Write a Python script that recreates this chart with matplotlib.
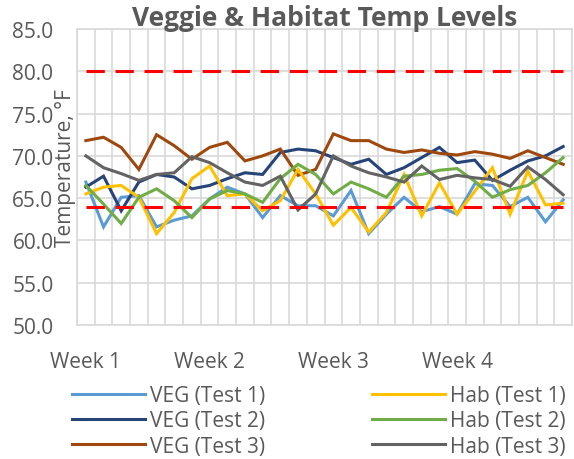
import numpy as np
import matplotlib
matplotlib.use("Agg")
import matplotlib.pyplot as plt

plt.rcParams['font.family'] = ['Open Sans', 'DejaVu Sans']

# one value per day, 4 weeks
days = list(range(28))
week_pos = [0, 7, 14, 21]
week_labels = ["Week 1", "Week 2", "Week 3", "Week 4"]

veg1 = [66.9, 61.6, 65.1, 65.3, 61.6, 62.4, 62.9, 64.9, 66.3, 65.5, 62.7, 65.3, 64.1, 64.1,
        62.9, 65.9, 60.8, 63.1, 65.1, 63.4, 64.0, 63.1, 66.7, 66.5, 64.0, 65.1, 62.2, 64.8]
veg2 = [66.3, 67.6, 63.5, 66.9, 67.8, 67.5, 66.1, 66.5, 67.3, 68.0, 67.8, 70.4, 70.8, 70.6,
        69.8, 69.0, 69.6, 67.8, 68.6, 69.8, 71.0, 69.2, 69.5, 67.1, 68.3, 69.4, 70.0, 71.1]
veg3 = [71.8, 72.2, 71.0, 68.4, 72.5, 71.2, 69.6, 71.0, 71.6, 69.4, 70.0, 70.8, 67.7, 68.4,
        72.6, 71.8, 71.8, 70.8, 70.4, 70.7, 70.3, 70.1, 70.5, 70.2, 69.7, 70.6, 69.8, 69.0]
hab1 = [65.5, 66.3, 66.5, 65.1, 60.8, 63.3, 67.3, 68.8, 65.3, 65.5, 63.5, 64.7, 68.4, 65.5,
        61.8, 63.9, 61.0, 63.3, 67.8, 62.9, 66.8, 63.1, 65.8, 68.6, 63.1, 68.2, 64.2, 64.4]
hab2 = [66.5, 64.3, 62.0, 65.1, 66.1, 64.7, 62.7, 64.9, 65.9, 65.5, 64.5, 67.3, 69.0, 67.8,
        65.5, 66.9, 66.1, 65.1, 67.6, 67.8, 68.3, 68.5, 67.0, 65.1, 66.0, 66.5, 68.0, 69.8]
hab3 = [70.0, 68.6, 67.9, 67.1, 67.8, 68.0, 69.9, 69.2, 68.0, 66.9, 66.5, 67.6, 63.6, 65.5,
        70.0, 68.8, 68.0, 67.5, 66.9, 68.8, 67.2, 67.7, 67.4, 67.2, 66.4, 68.7, 67.2, 65.4]
upper_limit = [80.0] * 28
lower_limit = [64.0] * 28

series = [
    ("VEG (Test 1)", veg1, "#5B9BD5"),
    ("VEG (Test 2)", veg2, "#264478"),
    ("VEG (Test 3)", veg3, "#9E480E"),
    ("Hab (Test 1)", hab1, "#FFC000"),
    ("Hab (Test 2)", hab2, "#70AD47"),
    ("Hab (Test 3)", hab3, "#636363"),
]

txt = "#595959"
grid = "#D9D9D9"

fig = plt.figure(figsize=(5.74, 4.60), dpi=100)
ax = fig.add_axes([77/574, 1-326/460, 495/574, 296/460])

lines = []
for name, vals, col in series:
    ln, = ax.plot(days, vals, color=col, lw=2.2, label=name, zorder=3,
                  solid_joinstyle="miter")
    lines.append(ln)

for vals in (upper_limit, lower_limit):
    ax.plot(days, vals, color="#FF0000", lw=2.2, ls=(0, (6, 3.5)), zorder=4)

ax.set_ylim(50, 85)
ax.set_yticks(np.arange(50, 86, 5))
ax.set_yticklabels([f"{v:.1f}" for v in np.arange(50, 86, 5)])
ax.set_xlim(-0.5, 27.5)
ax.set_xticks(week_pos)
ax.set_xticklabels(week_labels)
ax.set_xticks(np.arange(-0.5, 28, 1), minor=True)

ax.grid(False)
ax.yaxis.grid(True, color=grid, lw=1.2)
ax.xaxis.grid(True, which="minor", color=grid, lw=1.2)
ax.set_axisbelow(True)
for s in ax.spines.values():
    s.set_color(grid)
    s.set_linewidth(1.2)

ax.tick_params(axis="both", which="both", length=0, labelsize=15, colors=txt)
ax.tick_params(axis="y", pad=17)
ax.tick_params(axis="x", pad=19)

fig.text(325/574, 1-18/460, "Veggie & Habitat Temp Levels", ha="center", va="center",
         fontsize=19, fontweight="bold", color=txt)
fig.text(65/574, 1-168/460, "Temperature, °F", rotation=90, ha="center", va="center",
         fontsize=15, color=txt)

leg1 = fig.legend(handles=lines[:3], loc="center left", bbox_to_anchor=(72/574, 1-422/460),
                  frameon=False, fontsize=15, handlelength=3.5, handletextpad=0.25,
                  labelspacing=0.2, borderpad=0, borderaxespad=0, labelcolor=txt)
leg2 = fig.legend(handles=lines[3:], loc="center left", bbox_to_anchor=(372/574, 1-422/460),
                  frameon=False, fontsize=15, handlelength=3.5, handletextpad=0.25,
                  labelspacing=0.2, borderpad=0, borderaxespad=0, labelcolor=txt)

fig.savefig("out.png", dpi=100)
